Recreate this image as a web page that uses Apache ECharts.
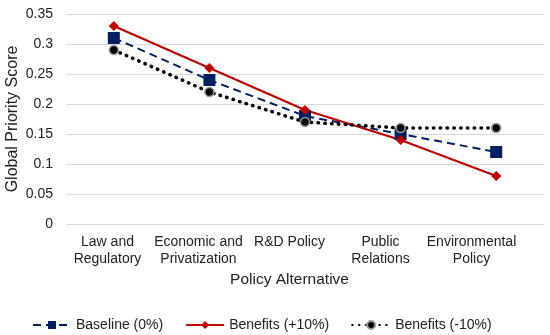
<!DOCTYPE html>
<html><head><meta charset="utf-8">
<script src="https://cdn.jsdelivr.net/npm/echarts@6/dist/echarts.min.js"></script>
<style>html,body{margin:0;padding:0;background:#fff}#c{width:550px;height:335px}</style>
</head><body><div id="c"></div>
<script>
const categories = ["Law and\nRegulatory", "Economic and\nPrivatization", "R&D Policy", "Public\nRelations", "Environmental\nPolicy"];
const baseline = [0.31, 0.24, 0.18, 0.15, 0.12];
const benefitsPlus = [0.33, 0.26, 0.19, 0.14, 0.08];
const benefitsMinus = [0.29, 0.22, 0.17, 0.16, 0.16];
const yTicks = { min: 0, max: 0.35, interval: 0.05 };

const chart = echarts.init(document.getElementById('c'));
const font = 'Liberation Sans, Arial, sans-serif';
chart.setOption({
  animation: false,
  textStyle: { fontFamily: font },
  grid: [
    { left: 66, right: 6, top: 14, bottom: 111, outerBoundsMode: 'none', containLabel: false },
    { left: 62, right: 33, top: 14, bottom: 111, outerBoundsMode: 'none', containLabel: false }
  ],
  legend: {
    top: 313, left: 27, itemWidth: 38, itemHeight: 10, itemGap: 22,
    textStyle: { fontFamily: font, fontSize: 14, color: '#222' },
    data: ['Baseline (0%)', 'Benefits (+10%)', 'Benefits (-10%)']
  },
  xAxis: [{
    type: 'category', data: categories, boundaryGap: true, gridIndex: 0,
    axisLine: { show: false }, axisTick: { show: false }, axisLabel: { show: false }
  }, {
    type: 'category', data: categories, boundaryGap: true, gridIndex: 1,
    axisLine: { show: false }, axisTick: { show: false },
    axisLabel: { fontSize: 14, color: '#222', lineHeight: 17, margin: 10, interval: 0 },
    name: 'Policy Alternative', nameLocation: 'middle', nameGap: 48, nameMoveOverlap: false,
    nameTextStyle: { fontSize: 15.5, color: '#222' }
  }],
  yAxis: [{
    type: 'value', min: yTicks.min, max: yTicks.max, interval: yTicks.interval, gridIndex: 0,
    axisLine: { show: false }, axisTick: { show: false },
    axisLabel: { fontSize: 14, color: '#222', margin: 13, formatter: v => String(+v.toFixed(2)) },
    splitLine: { lineStyle: { color: '#d9d9d9', width: 1 } },
    name: 'Global Priority Score', nameLocation: 'middle', nameGap: 45, nameMoveOverlap: false,
    nameTextStyle: { fontSize: 16, color: '#222' }
  }, {
    type: 'value', min: yTicks.min, max: yTicks.max, gridIndex: 1, show: false
  }],
  series: [
    { name: 'Baseline (0%)', type: 'line', data: baseline, symbol: 'rect', symbolSize: 12,
      itemStyle: { color: '#002060' },
      lineStyle: { color: '#002060', width: 2, type: [8, 5] } },
    { name: 'Benefits (+10%)', type: 'line', data: benefitsPlus, symbol: 'diamond', symbolSize: 10,
      itemStyle: { color: '#C00000' },
      lineStyle: { color: '#C00000', width: 2 } },
    { name: 'Benefits (-10%)', type: 'line', data: benefitsMinus, symbol: 'circle', symbolSize: 9,
      itemStyle: { color: '#000', borderColor: '#999', borderWidth: 1.5 },
      lineStyle: { color: '#000', width: 3.5, type: [0.5, 6.3], cap: 'round' } }
  ]
});
</script></body></html>
